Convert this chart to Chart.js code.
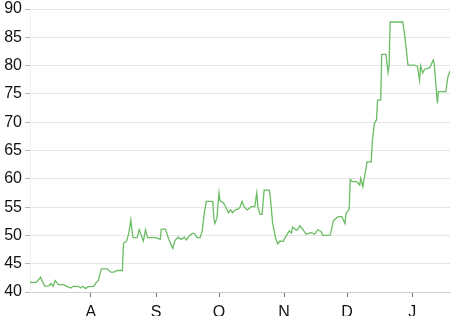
<!DOCTYPE html>
<html>
<head>
<meta charset="utf-8">
<script src="https://cdn.jsdelivr.net/npm/chart.js@4/dist/chart.umd.min.js"></script>
<style>
html,body{margin:0;padding:0;background:#fff;}
#wrap{width:464px;height:316px;position:relative;}
</style>
</head>
<body>
<div id="wrap"><canvas id="c" width="464" height="316"></canvas></div>
<script>
// Days counted from July 1 (day 0)
const days = [2,5,7,9,11,12,13,14,15.5,18,19.5,21.5,22.5,25,26,27,28.5,29.5,31.5,32.5,33.5,34.5,36,38.5,39,40.5,42,43.5,46,46.5,48,49,50,51,53,54,55,56,57,58,62,64,64.5,66.5,68,69,70,71,72.5,74,75.5,76.5,78,79.5,80.5,81.5,83,84,85,86,89,89.5,90,91,92,92.5,94,95,96.5,97.5,98.5,100,101,102,103,104,105.5,106.5,107.5,109,110,110.5,111.5,112.5,113.5,116,116.5,117.5,119,120,121,122.5,123.5,125.5,126.5,127,128.5,129.5,130.5,132,133.5,135,136,137.5,139,140.5,141.5,144,145,146.5,148,149,150.5,152,152.5,154,154.5,155.5,157.5,159,159.5,160.5,161.5,162.5,164.5,165,166,167,167.5,169,169.5,171.5,172.5,173,173.5,179.5,180.5,182,185,186.5,187.5,188,189,190,191.5,192.5,194,194.5,195.5,196,196.5,200,201,202];
const values = [41.7,41.7,42.6,41.05,41.1,41.5,41.0,42.0,41.3,41.3,41.0,40.7,41.0,41.0,40.7,41.0,40.6,40.9,41.0,41.0,41.7,42.0,44.1,44.1,44.0,43.5,43.5,43.8,43.8,48.6,49.0,50.3,52.7,49.6,49.6,51.0,50.0,49.0,51.0,49.6,49.6,49.3,51.1,51.1,49.4,48.5,47.7,49.1,49.7,49.3,49.7,49.2,50.0,50.4,50.3,49.6,49.6,50.8,54.0,56.0,56.0,53.2,52.1,53.0,57.5,56.1,55.8,55.2,54.0,54.5,54.0,54.6,54.6,55.0,56.0,55.0,54.5,54.8,55.1,55.1,57.5,55.0,53.7,53.7,58.0,58.0,56.5,52.3,49.4,48.5,49.0,48.9,49.6,50.8,50.4,51.5,51.0,51.0,51.7,51.0,50.2,50.4,50.5,50.2,51.0,50.7,50.0,50.0,50.1,52.6,53.1,53.3,53.3,52.1,53.9,54.6,59.9,59.5,59.5,58.9,60.1,58.6,60.8,63.0,63.0,66.6,69.8,70.4,73.9,73.9,82.0,82.0,78.8,80.0,87.7,87.7,85.2,80.1,80.1,79.9,77.4,80.0,78.7,79.4,79.5,79.7,81.0,80.3,75.6,73.3,75.4,75.4,78.0,79.1];
const monthDays = [31, 62, 92, 123, 153, 184];
const monthLabels = ["A", "S", "O", "N", "D", "J"];
const yTicks = [40, 45, 50, 55, 60, 65, 70, 75, 80, 85, 90];

const FONT = '"Liberation Sans", Arial, Helvetica, sans-serif';
const pts = days.map((d, i) => ({x: d, y: values[i]}));

new Chart(document.getElementById('c'), {
  type: 'line',
  data: {
    datasets: [{
      data: pts,
      borderColor: '#6bbd64',
      borderWidth: 1.3,
      pointRadius: 0,
      tension: 0,
      fill: false
    }]
  },
  options: {
    responsive: false,
    animation: false,
    events: [],
    layout: {padding: {top: 6, right: 14, left: 0, bottom: 0}},
    plugins: {legend: {display: false}, tooltip: {enabled: false}},
    scales: {
      x: {
        type: 'linear',
        min: days[0],
        max: days[days.length - 1],
        afterBuildTicks: (s) => { s.ticks = monthDays.map(v => ({value: v})); },
        afterFit: (s) => { s.height = 24; },
        ticks: {
          autoSkip: false,
          maxRotation: 0,
          padding: 6,
          color: '#111',
          font: {family: FONT, size: 16},
          callback: (v) => { const i = monthDays.indexOf(v); return i >= 0 ? monthLabels[i] : ''; }
        },
        grid: {drawOnChartArea: false, drawTicks: true, tickLength: 5, tickColor: '#777'},
        border: {display: true, color: '#cfcfcf', width: 1}
      },
      y: {
        min: 40,
        max: 90,
        afterBuildTicks: (s) => { s.ticks = yTicks.map(v => ({value: v})); },
        afterFit: (s) => { s.width = 30; },
        ticks: {
          padding: 3,
          color: '#111',
          font: {family: FONT, size: 16, lineHeight: 0.75}
        },
        grid: {color: '#e6e6e6', lineWidth: 1, drawTicks: true, tickLength: 5, tickColor: '#b5b5b5'},
        border: {display: true, color: '#f0f0f0'}
      }
    }
  }
});
</script>
</body>
</html>
